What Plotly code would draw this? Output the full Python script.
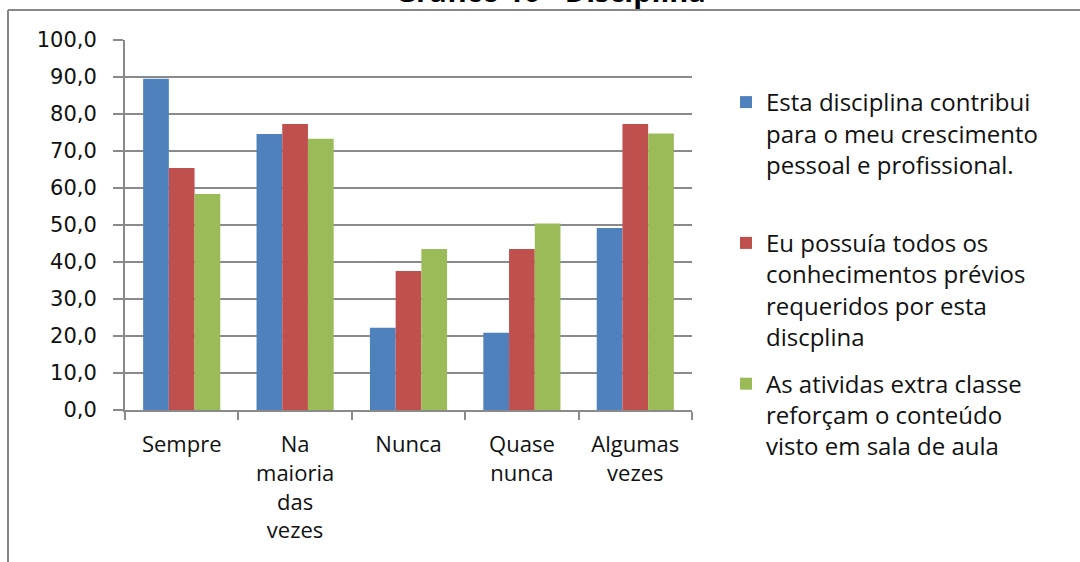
import plotly.graph_objects as go

categories = ["Sempre", "Na<br>maioria<br>das<br>vezes", "Nunca", "Quase<br>nunca", "Algumas<br>vezes"]
serie_contribui = [89.5, 74.6, 22.2, 20.9, 49.2]
serie_conhecimentos = [65.4, 77.3, 37.6, 43.5, 77.3]
serie_atividades = [58.4, 73.3, 43.5, 50.4, 74.7]
names = [
    "Esta disciplina contribui<br>para o meu crescimento<br>pessoal e profissional.<br> ",
    "Eu possuía todos os<br>conhecimentos prévios<br>requeridos por esta<br>discplina",
    "As atividas extra classe<br>reforçam o conteúdo<br>visto em sala de aula",
]
colors = ["#4F81BD", "#C0504D", "#9BBB59"]
title_text = "Gráfico 10 - Disciplina"

W, H = 1080, 562
L, R, T, B = 125, 692, 40, 410


def px(x):
    return (x - L) / (R - L)


def py(y):
    return (B - y) / (B - T)


fig = go.Figure()
for vals, name, col, grp in zip([serie_contribui, serie_conhecimentos, serie_atividades], names, colors, ["a", "b", "c"]):
    fig.add_trace(go.Bar(x=categories, y=vals, name=name, marker=dict(color=col, line=dict(width=0)),
                         legendgroup=grp))

grid_col = "#8a8a8a"
fig.update_layout(
    width=W, height=H,
    margin=dict(l=L, r=W - R, t=T, b=H - B),
    paper_bgcolor="white", plot_bgcolor="white",
    barmode="group", bargap=0.32, bargroupgap=0,
    separators=",.",
    showlegend=True,
    legend=dict(
        x=px(726), y=py(80), xanchor="left", yanchor="top",
        font=dict(family="Open Sans", size=24, color="#111"),
        valign="top", tracegroupgap=13, itemwidth=30,
        bgcolor="rgba(0,0,0,0)", maxheight=520,
    ),
    xaxis=dict(
        showline=True, linecolor=grid_col, linewidth=2,
        ticks="outside", tickson="boundaries", ticklen=8, tickcolor=grid_col, tickwidth=2,
        tickfont=dict(family="Open Sans", size=22, color="#111"),
        ticklabelstandoff=14,
        showgrid=False,
    ),
    yaxis=dict(
        range=[0, 100], dtick=10, tickformat=".1f",
        showline=True, linecolor=grid_col, linewidth=2,
        ticks="outside", ticklen=10, tickcolor=grid_col, tickwidth=2,
        showgrid=True, gridcolor=grid_col, gridwidth=2,
        tickfont=dict(family="DejaVu Sans", size=21, color="#111"),
        ticklabelstandoff=12,
        zeroline=False,
    ),
)

# frame lines of the surrounding chart area
fig.add_shape(type="line", xref="paper", yref="paper", x0=px(8), x1=px(1080), y0=py(10), y1=py(10),
              line=dict(color="#888888", width=2))
fig.add_shape(type="line", xref="paper", yref="paper", x0=px(8), x1=px(8), y0=py(10), y1=py(562),
              line=dict(color="#888888", width=2))

fig.add_annotation(text="<b>" + title_text + "</b>", xref="paper", yref="paper", x=px(550), y=py(-10),
                   showarrow=False, font=dict(family="Open Sans", size=29, color="#000"),
                   xanchor="center", yanchor="middle")

fig.write_html("out.html", config={"displayModeBar": False},
               post_script="document.body.style.margin='0';document.body.style.overflow='hidden';")
